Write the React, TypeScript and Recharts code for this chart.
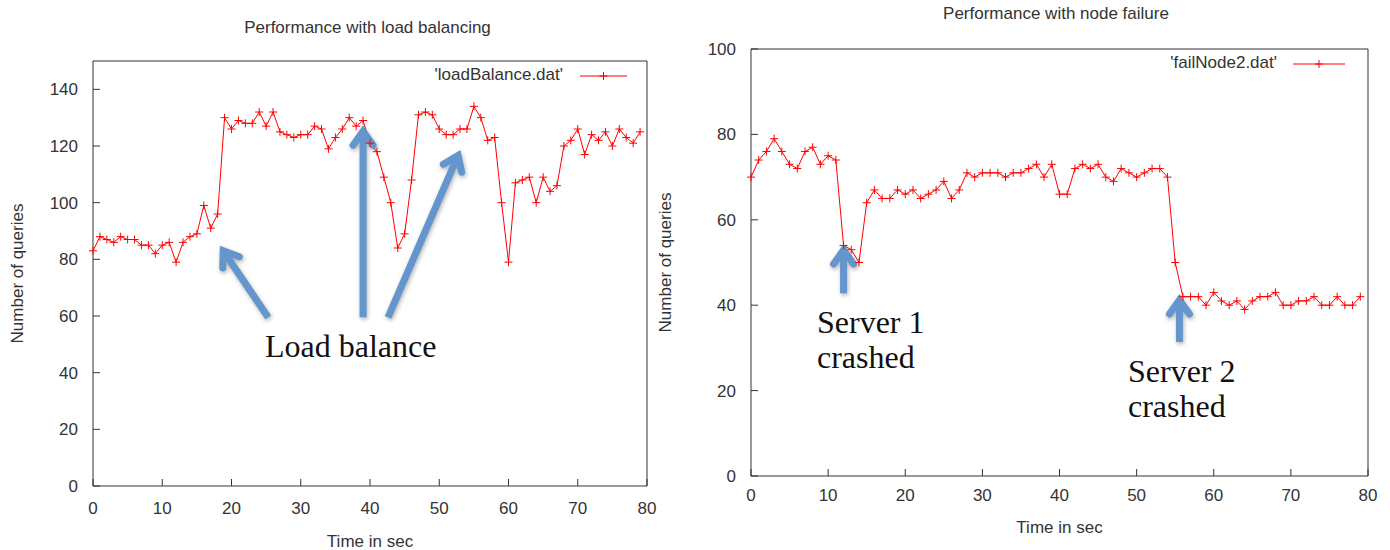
import { Label, Legend, Line, LineChart, ReferenceLine, XAxis, YAxis } from "recharts";

// Queries per second, one sample per second starting at t = 0.
const loadBalanceQueries = [
  83, 88, 87, 86, 88, 87, 87, 85, 85, 82,
  85, 86, 79, 86, 88, 89, 99, 91, 96, 130,
  126, 129, 128, 128, 132, 127, 132, 125, 124, 123,
  124, 124, 127, 126, 119, 123, 126, 130, 127, 129,
  121, 118, 109, 100, 84, 89, 108, 131, 132, 131,
  126, 124, 124, 126, 126, 134, 130, 122, 123, 100,
  79, 107, 108, 109, 100, 109, 104, 106, 120, 122,
  126, 117, 124, 122, 125, 120, 126, 123, 121, 125,
];

const failNodeQueries = [
  70, 74, 76, 79, 76, 73, 72, 76, 77, 73,
  75, 74, 54, 53, 50, 64, 67, 65, 65, 67,
  66, 67, 65, 66, 67, 69, 65, 67, 71, 70,
  71, 71, 71, 70, 71, 71, 72, 73, 70, 73,
  66, 66, 72, 73, 72, 73, 70, 69, 72, 71,
  70, 71, 72, 72, 70, 50, 42, 42, 42, 40,
  43, 41, 40, 41, 39, 41, 42, 42, 43, 40,
  40, 41, 41, 42, 40, 40, 42, 40, 40, 42,
];

const timeTicks = [0, 10, 20, 30, 40, 50, 60, 70, 80];
const loadTicks = [0, 20, 40, 60, 80, 100, 120, 140];
const failTicks = [0, 20, 40, 60, 80, 100];

// annotation arrows, tail -> tip, in data units (time, queries)
const loadBalanceArrows = [
  [{ x: 25.3, y: 59.5 }, { x: 18.4, y: 84.5 }],
  [{ x: 39.0, y: 59.6 }, { x: 39.0, y: 127 }],
  [{ x: 42.6, y: 59.5 }, { x: 53.0, y: 118.3 }],
];
const failNodeArrows = [
  [{ x: 12.0, y: 42.8 }, { x: 12.0, y: 54.1 }],
  [{ x: 55.55, y: 31.4 }, { x: 55.55, y: 42.4 }],
];

const loadRows = loadBalanceQueries.map((q, t) => ({ t, q }));
const failRows = failNodeQueries.map((q, t) => ({ t, q }));

const FONT = "'Liberation Sans', Arial, sans-serif";
const SERIF = "'Liberation Serif', 'Times New Roman', serif";
const INK = "#333";
const RED = "#ff0000";
const BLUE = "#6496cd";

function PlusDot(props: any) {
  const { cx, cy, index } = props;
  if (cx == null || cy == null) return <g key={index} />;
  return (
    <path
      key={index}
      d={`M${cx - 4},${cy}h8M${cx},${cy - 4}v8`}
      stroke={RED}
      strokeWidth={1}
      fill="none"
    />
  );
}

function Arrow(props: any) {
  const { x1, y1, x2, y2 } = props;
  const len = Math.hypot(x2 - x1, y2 - y1) || 1;
  const ux = (x2 - x1) / len;
  const uy = (y2 - y1) / len;
  const ax = x2 - ux * 5;
  const ay = y2 - uy * 5;
  const bx = ax - ux * 14;
  const by = ay - uy * 14;
  const side = 10;
  return (
    <g style={{ filter: "drop-shadow(1px 2px 2px rgba(0,0,0,0.3))" }}>
      <line x1={x1} y1={y1} x2={ax} y2={ay} stroke={BLUE} strokeWidth={7} />
      <polyline
        points={`${bx - uy * side},${by + ux * side} ${ax},${ay} ${bx + uy * side},${by - ux * side}`}
        fill="none"
        stroke={BLUE}
        strokeWidth={7}
        strokeLinecap="round"
        strokeLinejoin="miter"
      />
    </g>
  );
}

function LegendKey({ name, width, textEnd, lineStart, lineEnd }: any) {
  const mid = (lineStart + lineEnd) / 2;
  return (
    <svg width={width} height={22} style={{ display: "block" }}>
      <text x={textEnd} y={16} textAnchor="end" fontFamily={FONT} fontSize={17} fill={INK}>
        {name}
      </text>
      <line x1={lineStart} y1={12} x2={lineEnd} y2={12} stroke={RED} strokeWidth={1} />
      <path d={`M${mid - 4},12h8M${mid},8v8`} stroke={RED} strokeWidth={1} />
    </svg>
  );
}

const tickStyle = { fill: INK, fontSize: 17, fontFamily: FONT };
const labelStyle = { fill: INK, fontSize: 17, fontFamily: FONT };

function Panel({ rows, yMax, yTicks, arrows, legend, width, margin, yAxisWidth, xAxisHeight, xTickMargin, yLabelOffset, xLabelOffset }: any) {
  return (
    <LineChart width={width} height={550} data={rows} margin={margin}>
      <XAxis
        dataKey="t"
        type="number"
        domain={[0, 80]}
        ticks={timeTicks}
        interval={0}
        height={xAxisHeight}
        stroke={INK}
        tickSize={-7}
        tickMargin={xTickMargin}
        tick={tickStyle}
      >
        <Label value="Time in sec" position="insideBottom" offset={xLabelOffset} style={labelStyle} />
      </XAxis>
      <XAxis
        xAxisId="top"
        orientation="top"
        dataKey="t"
        type="number"
        domain={[0, 80]}
        ticks={timeTicks}
        interval={0}
        height={1}
        stroke={INK}
        tickSize={-7}
        tick={false}
      />
      <YAxis
        type="number"
        domain={[0, yMax]}
        ticks={yTicks}
        interval={0}
        width={yAxisWidth}
        stroke={INK}
        tickSize={-7}
        tickMargin={22}
        tick={tickStyle}
      >
        <Label
          value="Number of queries"
          angle={-90}
          position="insideLeft"
          offset={yLabelOffset}
          style={{ ...labelStyle, textAnchor: "middle" }}
        />
      </YAxis>
      <YAxis
        yAxisId="right"
        orientation="right"
        type="number"
        domain={[0, yMax]}
        ticks={yTicks}
        interval={0}
        width={1}
        stroke={INK}
        tickSize={-7}
        tick={false}
      />
      <Legend
        layout="horizontal"
        align="center"
        verticalAlign="middle"
        wrapperStyle={legend.wrapper}
        content={() => <LegendKey {...legend.key} />}
      />
      <Line
        dataKey="q"
        stroke={RED}
        strokeWidth={1}
        dot={PlusDot}
        activeDot={false}
        isAnimationActive={false}
      />
      {arrows.map((seg: any, i: number) => (
        <ReferenceLine key={i} segment={seg} ifOverflow="visible" shape={Arrow} />
      ))}
    </LineChart>
  );
}

export default function App() {
  return (
    <div style={{ position: "absolute", left: 0, top: 0, width: 1390, height: 550, background: "#fff", overflow: "hidden" }}>
      <div style={{ position: "absolute", left: 0, top: 0 }}>
        <Panel
          rows={loadRows}
          yMax={150}
          yTicks={loadTicks}
          arrows={loadBalanceArrows}
          width={690}
          margin={{ top: 60, right: 42, bottom: 0, left: 0 }}
          yAxisWidth={93}
          xAxisHeight={64}
          xTickMargin={23}
          yLabelOffset={17}
          xLabelOffset={3}
          legend={{
            wrapper: { top: 64, left: 400, width: 240, height: 22 },
            key: { name: "'loadBalance.dat'", width: 240, textEnd: 163, lineStart: 180, lineEnd: 227 },
          }}
        />
      </div>
      <div style={{ position: "absolute", left: 650, top: 0 }}>
        <Panel
          rows={failRows}
          yMax={100}
          yTicks={failTicks}
          arrows={failNodeArrows}
          width={740}
          margin={{ top: 48, right: 21, bottom: 0, left: 0 }}
          yAxisWidth={101}
          xAxisHeight={74}
          xTickMargin={20}
          yLabelOffset={15}
          xLabelOffset={17}
          legend={{
            wrapper: { top: 52, left: 450, width: 260, height: 22 },
            key: { name: "'failNode2.dat'", width: 260, textEnd: 177, lineStart: 193, lineEnd: 245 },
          }}
        />
      </div>
      <svg width={1390} height={550} style={{ position: "absolute", left: 0, top: 0, pointerEvents: "none" }}>
        <text x={367.5} y={33} textAnchor="middle" fontFamily={FONT} fontSize={17} fill={INK}>
          Performance with load balancing
        </text>
        <text x={1056} y={19} textAnchor="middle" fontFamily={FONT} fontSize={17} fill={INK}>
          Performance with node failure
        </text>
        <g fontFamily={SERIF} fontSize={32} fill="#111">
          <text x={265} y={357}>Load balance</text>
          <text x={817} y={333}>Server 1</text>
          <text x={817} y={368}>crashed</text>
          <text x={1128} y={382}>Server 2</text>
          <text x={1128} y={417}>crashed</text>
        </g>
      </svg>
    </div>
  );
}
